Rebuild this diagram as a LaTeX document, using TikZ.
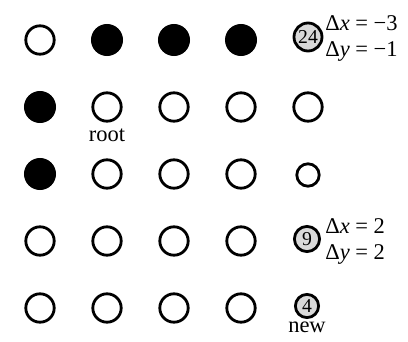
\documentclass[tikz,border=0pt]{standalone}
\usepackage{fontspec}
\setmainfont{Liberation Serif}
\usetikzlibrary{positioning}

\begin{document}
\begin{tikzpicture}[x=0.025cm, y=-0.025cm,
    hole/.style={draw, circle, line width=2pt, minimum size=0.71cm, inner sep=0pt},
    stone/.style={circle, fill=black, minimum size=0.8cm, inner sep=0pt},
    probe/.style={draw, circle, line width=2pt, fill=gray!30, inner sep=0pt, font=\fontsize{14}{14}\selectfont},
    delta/.style={anchor=base west, inner sep=0pt, font=\fontsize{16}{18}\selectfont},
    every node/.append style={font=\fontsize{16}{18}\selectfont},
  ]
  \useasboundingbox (0,0) rectangle (408,342);

  % Row 1
  \node[hole] (p11) at (40,40) {};
  \node[stone] (p12) at (107,40) {};
  \node[stone] (p13) at (174,40) {};
  \node[stone] (p14) at (241,40) {};
  \node[probe, minimum size=0.7cm] (p15) at (308,37) {24};
  % Row 2
  \node[stone] (p21) at (40,107) {};
  \node[hole] (p22) at (107,107) {};
  \node[hole] (p23) at (174,107) {};
  \node[hole] (p24) at (241,107) {};
  \node[hole] (p25) at (308,107) {};
  % Row 3
  \node[stone] (p31) at (40,174) {};
  \node[hole] (p32) at (107,174) {};
  \node[hole] (p33) at (174,174) {};
  \node[hole] (p34) at (241,174) {};
  \node[hole, minimum size=0.56cm] (p35) at (308,175) {};
  % Row 4
  \node[hole] (p41) at (40,241) {};
  \node[hole] (p42) at (107,241) {};
  \node[hole] (p43) at (174,241) {};
  \node[hole] (p44) at (241,241) {};
  \node[probe, minimum size=0.63cm] (p45) at (307,239) {9};
  % Row 5
  \node[hole] (p51) at (40,308) {};
  \node[hole] (p52) at (107,308) {};
  \node[hole] (p53) at (174,308) {};
  \node[hole] (p54) at (241,308) {};
  \node[probe, minimum size=0.58cm] (p55) at (307,306) {4};

  % Labels
  \node[below=4pt of p22, inner sep=0pt] (root) {root};
  \node[below=2pt of p55, inner sep=0pt] (new) {new};
  \node[delta] (dx1) at (325,30) {Δ\textit{x} = −3};
  \node[delta] (dy1) at (325,56) {Δ\textit{y} = −1};
  \node[delta] (dx2) at (325,233) {Δ\textit{x} = 2};
  \node[delta] (dy2) at (325,259) {Δ\textit{y} = 2};
\end{tikzpicture}
\end{document}
